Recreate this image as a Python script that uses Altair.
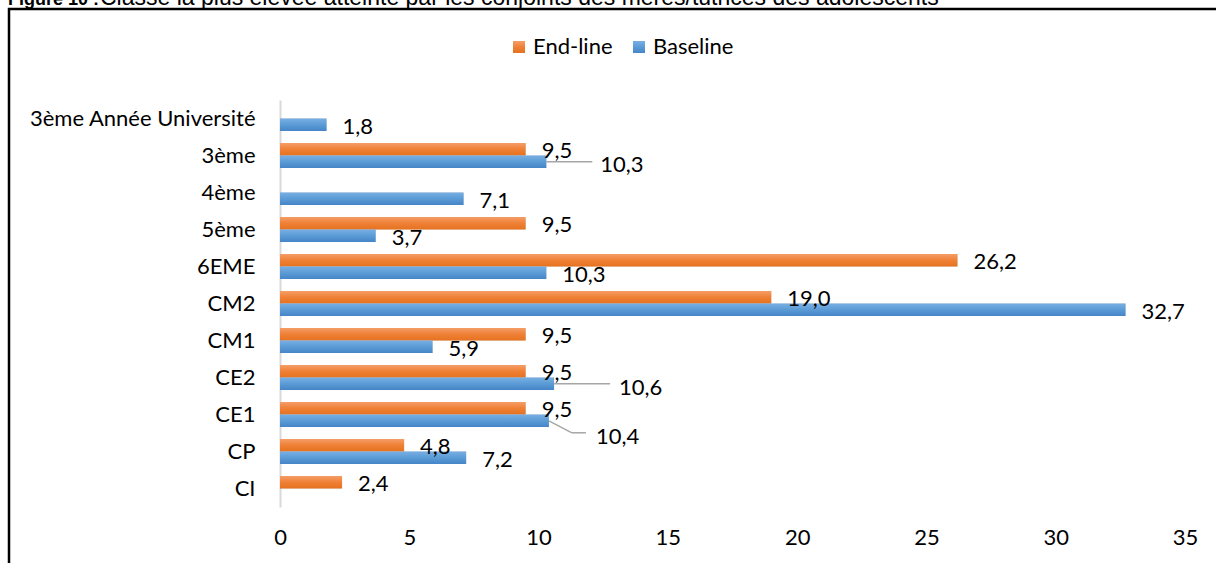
import altair as alt
import pandas as pd

# ---- data -------------------------------------------------------------
categories = ["3ème Année Université", "3ème", "4ème\u00a0", "5ème", "6EME",
              "CM2", "CM1", "CE2", "CE1", "CP", "CI"]
series_names = ["End-line", "Baseline"]
endline = [None, 9.5, None, 9.5, 26.2, 19.0, 9.5, 9.5, 9.5, 4.8, 2.4]
baseline = [1.8, 10.3, 7.1, 3.7, 10.3, 32.7, 5.9, 10.6, 10.4, 7.2, None]
x_ticks = [0, 5, 10, 15, 20, 25, 30, 35]

title_bold = "Figure 10 :"
title_rest = ("Classe la plus élevée atteinte par les conjoints "
              "des mères/tutrices des adolescents")

rows = []
for s, vals in zip(series_names, [endline, baseline]):
    for c, v in zip(categories, vals):
        if v is not None:
            rows.append({"cat": c, "series": s, "v": v})
df = pd.DataFrame(rows)

# ---- styling ------------------------------------------------------------
FONT = "Lato"
FS = 22
TXT = "#000000"
PLOT_W, PLOT_H = 905, 407
PAD = {"left": 280, "top": 100, "right": 31, "bottom": 56}


def grad(top, mid, bottom):
    return alt.LinearGradient(
        gradient="linear", x1=0, x2=0, y1=0, y2=1,
        stops=[alt.GradientStop(color=top, offset=0),
               alt.GradientStop(color=mid, offset=0.5),
               alt.GradientStop(color=bottom, offset=1)])


fills = {
    "End-line": grad("#F59E68", "#EF8036", "#E5721F"),
    "Baseline": grad("#78AFE4", "#5B9BD5", "#4585C8"),
}

# Baseline labels pulled away from their bar, with leader segments
# (pixel offsets relative to the bar end / bar centre line)
callouts = {
    "3ème": {"dx": 54, "dy": 1, "segs": [(0, 0, 46, 0)]},
    "CE2": {"dx": 65, "dy": 2, "segs": [(0, 0, 56, 0)]},
    "CE1": {"dx": 47, "dy": 14, "segs": [(0, 0, 23, 12), (23, 12, 37, 12)]},
}

y_scale = alt.Scale(type="band", domain=categories,
                    paddingInner=0.32, paddingOuter=0.16)
y_axis = alt.Axis(domainColor="#D9D9D9", domainWidth=2, ticks=False,
                  labelPadding=25, labelFontSize=FS, labelFont=FONT,
                  labelColor=TXT, labelLimit=400, title=None)
x_enc = alt.X("v:Q", title=None,
              scale=alt.Scale(domain=[0, 35], nice=False, zero=True),
              axis=alt.Axis(values=x_ticks, domain=False, ticks=False,
                            grid=False, labelPadding=20, labelFontSize=FS,
                            labelFont=FONT, labelColor=TXT, labelFlush=False,
                            title=None))


def y_enc(**kw):
    return alt.Y("cat:N", sort=categories, scale=y_scale, axis=y_axis,
                 title=None, **kw)


yoff = alt.YOffset("series:N", sort=series_names,
                   scale=alt.Scale(domain=series_names,
                                   paddingInner=0, paddingOuter=0))

label_expr = "replace(format(datum.v, '.1f'), '.', ',')"
base = alt.Chart(df)

layers = []

# soft drop shadow under every bar
for off, op in [(2, 0.13), (4, 0.08)]:
    layers.append(
        base.mark_bar(color="#000000", opacity=op, yOffset=off,
                      x2Offset=off - 1)
        .encode(x=x_enc, y=y_enc(), yOffset=yoff)
    )

# bars, one layer per series so each gets its own gradient
for s in series_names:
    layers.append(
        base.transform_filter(alt.datum.series == s)
        .mark_bar(color=fills[s])
        .encode(x=x_enc, y=y_enc(), yOffset=yoff)
    )

# value labels next to the bar ends
callout_list = "[" + ",".join("'%s'" % c for c in callouts) + "]"
layers.append(
    base.transform_filter(
        f"!(datum.series == 'Baseline' && indexof({callout_list}, datum.cat) >= 0)")
    .transform_calculate(lbl=label_expr)
    .mark_text(align="left", baseline="middle", dx=16, dy=2,
               font=FONT, fontSize=FS, color=TXT)
    .encode(x=x_enc, y=y_enc(), yOffset=yoff, text="lbl:N")
)

for cat, spec in callouts.items():
    sel = base.transform_filter(
        f"datum.series == 'Baseline' && datum.cat == '{cat}'")
    layers.append(
        sel.transform_calculate(lbl=label_expr)
        .mark_text(align="left", baseline="middle", dx=spec["dx"],
                   dy=spec["dy"] + 2, font=FONT, fontSize=FS, color=TXT)
        .encode(x=x_enc, y=y_enc(), yOffset=yoff, text="lbl:N")
    )
    for x0, y0, x1, y1 in spec["segs"]:
        layers.append(
            sel.mark_rule(color="#A6A6A6", strokeWidth=1.5,
                          xOffset=x0, x2Offset=x1, yOffset=y0, y2Offset=y1)
            .encode(x=x_enc, x2=alt.X2("v"),
                    y=y_enc(bandPosition=0.75),
                    y2=alt.Y2("cat", bandPosition=0.75))
        )

# ---- decorations: legend, frame, caption -------------------------------
one = alt.Chart(pd.DataFrame({"k": [0]}))

legend_x0, legend_step, legend_y = 233, 120, -59
for i, s in enumerate(series_names):
    lx = legend_x0 + i * legend_step
    layers.append(
        one.mark_rect(color=fills[s]).encode(
            x=alt.value(lx), x2=alt.value(lx + 12),
            y=alt.value(legend_y), y2=alt.value(legend_y + 12))
    )
    layers.append(
        one.mark_text(align="left", baseline="middle", font=FONT,
                      fontSize=FS, color=TXT).encode(
            x=alt.value(lx + 20), y=alt.value(legend_y + 6),
            text=alt.value(s))
    )

layers.append(
    one.mark_rect(filled=False, stroke="#000000", strokeWidth=2.5).encode(
        x=alt.value(-271), x2=alt.value(PLOT_W + PAD["right"] + 20),
        y=alt.value(-91), y2=alt.value(PLOT_H + PAD["bottom"] + 20))
)

# caption line sitting above the frame
layers.append(
    one.mark_text(align="left", baseline="alphabetic",
                  font="Liberation Sans", fontSize=18, fontWeight="bold",
                  color=TXT).encode(
        x=alt.value(-272), y=alt.value(-95.5), text=alt.value(title_bold))
)
layers.append(
    one.mark_text(align="left", baseline="alphabetic",
                  font="Liberation Sans", fontSize=23, color=TXT).encode(
        x=alt.value(-180), y=alt.value(-95.5), text=alt.value(title_rest))
)

chart = (
    alt.layer(*layers)
    .properties(width=PLOT_W, height=PLOT_H, padding=PAD,
                autosize=alt.AutoSizeParams(type="none"),
                background="white")
    .configure_view(stroke=None)
)

chart.save("out.html", embed_options={"renderer": "svg", "actions": False})
